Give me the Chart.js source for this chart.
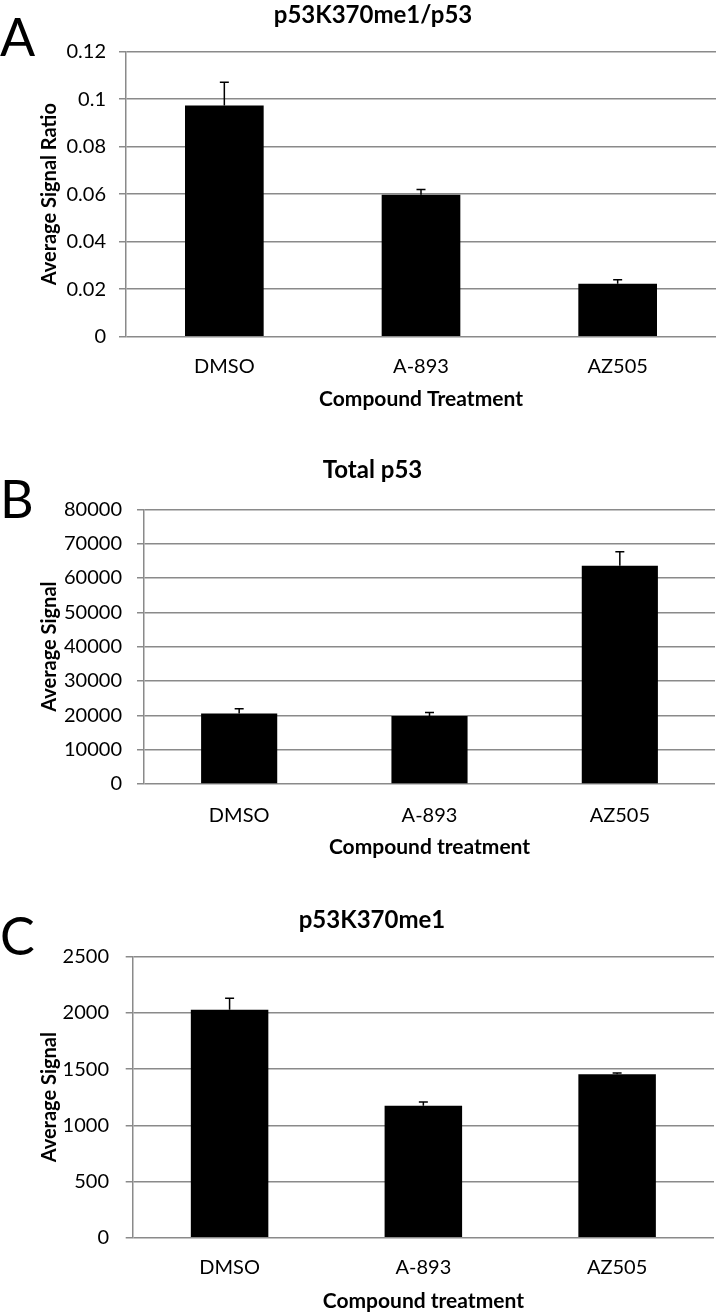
<!doctype html>
<html>

<head>
    <title>p53 signal</title>
    <script src="https://cdn.jsdelivr.net/npm/chart.js"></script>
    <style>
        body { margin: 0; background: #fff; width: 717px; height: 1312px; position: relative; overflow: hidden; }
        .panel { position: absolute; left: 30px; }
        .letra { position: absolute; left: 0px; font-family: Lato, sans-serif; font-size: 52px; line-height: 52px; color: #000; }
    </style>
</head>

<body>

    <div class="letra" style="top: 10px">A</div>
    <div class="letra" style="top: 472px">B</div>
    <div class="letra" style="top: 909px">C</div>

    <canvas id="graficoA" class="panel" style="top: 0px" width="687" height="420"></canvas>
    <canvas id="graficoB" class="panel" style="top: 450px" width="687" height="420"></canvas>
    <canvas id="graficoC" class="panel" style="top: 900px" width="687" height="412"></canvas>

    <script>
        // dados
        var categorias = ['DMSO', 'A-893', 'AZ505'];

        var razaoMedia = [0.0973, 0.0598, 0.0223];
        var razaoErro = [0.0098, 0.0022, 0.0017];

        var totalMedia = [20550, 19770, 63570];
        var totalErro = [1350, 1070, 4070];

        var me1Media = [2028, 1174, 1454];
        var me1Erro = [102, 33, 11];

        var fonte = 'Lato, sans-serif';
        var cinza = '#8a8a8a';

        // barras de erro (so para cima, como no excel)
        var barrasErro = {
            id: 'barrasErro',
            afterDatasetsDraw(chart) {
                var erros = chart.options.plugins.barrasErro.erros;
                var meta = chart.getDatasetMeta(0);
                var escala = chart.scales.y;
                var ctx = chart.ctx;
                ctx.save();
                ctx.strokeStyle = '#000';
                ctx.lineWidth = 1.5;
                meta.data.forEach((barra, i) => {
                    var valor = chart.data.datasets[0].data[i];
                    var yTopo = escala.getPixelForValue(valor + erros[i]);
                    var yBarra = escala.getPixelForValue(valor);
                    ctx.beginPath();
                    ctx.moveTo(barra.x, yBarra);
                    ctx.lineTo(barra.x, yTopo);
                    ctx.moveTo(barra.x - 4.5, yTopo);
                    ctx.lineTo(barra.x + 4.5, yTopo);
                    ctx.stroke();
                });
                ctx.restore();
            }
        };

        function criarGrafico(id, cfg) {
            return new Chart(document.getElementById(id).getContext('2d'), {
                type: 'bar',
                data: {
                    labels: categorias,
                    datasets: [{
                        data: cfg.valores,
                        backgroundColor: '#000',
                        borderWidth: 0,
                        barPercentage: 0.4,
                        categoryPercentage: 1
                    }]
                },
                plugins: [barrasErro],
                options: {
                    responsive: false,
                    animation: false,
                    devicePixelRatio: 1,
                    layout: { padding: { left: 0, right: cfg.direita, top: 0, bottom: 0 } },
                    plugins: {
                        legend: { display: false },
                        tooltip: { enabled: false },
                        barrasErro: { erros: cfg.erros },
                        title: {
                            display: true,
                            text: cfg.titulo,
                            color: '#000',
                            font: { family: fonte, size: 24, weight: 'bold', lineHeight: 1.2 },
                            padding: { top: cfg.tituloTopo, bottom: cfg.tituloBaixo }
                        }
                    },
                    scales: {
                        x: {
                            grid: { display: false, drawTicks: false },
                            border: { display: false },
                            afterFit: (s) => { s.height = cfg.alturaX; },
                            ticks: {
                                color: '#000',
                                padding: cfg.padX,
                                font: { family: fonte, size: 20 }
                            },
                            title: {
                                display: true,
                                text: cfg.tituloX,
                                color: '#000',
                                font: { family: fonte, size: 21, weight: 'bold', lineHeight: cfg.lhX },
                                padding: { top: 0, bottom: cfg.padTituloX }
                            }
                        },
                        y: {
                            min: 0,
                            max: cfg.max,
                            afterFit: (s) => { s.width = cfg.larguraY; },
                            afterBuildTicks: (s) => {
                                s.ticks = cfg.marcas.map(v => ({ value: v }));
                            },
                            grid: { color: cinza, lineWidth: 1.5, tickLength: 7, drawTicks: true },
                            border: { color: cinza, width: 1.5 },
                            ticks: {
                                color: '#000',
                                padding: cfg.padY,
                                font: { family: fonte, size: 20 },
                                callback: (v) => cfg.rotulo(v)
                            },
                            title: {
                                display: true,
                                text: cfg.tituloY,
                                color: '#000',
                                font: { family: fonte, size: 20, weight: 'bold', lineHeight: 1.2 },
                                padding: { top: 8, bottom: 0 }
                            }
                        }
                    }
                }
            });
        }

        var marcasA = [0, 0.02, 0.04, 0.06, 0.08, 0.1, 0.12];
        var marcasB = [0, 10000, 20000, 30000, 40000, 50000, 60000, 70000, 80000];
        var marcasC = [0, 500, 1000, 1500, 2000, 2500];

        criarGrafico('graficoA', {
            valores: razaoMedia, erros: razaoErro, marcas: marcasA, max: 0.12,
            rotulo: (v) => String(parseFloat(v.toFixed(2))),
            titulo: 'p53K370me1/p53', tituloX: 'Compound Treatment', tituloY: 'Average Signal Ratio',
            tituloTopo: 0.6, tituloBaixo: 22.3, direita: 1,
            larguraY: 96, padY: 13, alturaX: 83.3, padX: 18, padTituloX: 8.4, lhX: 1.2
        });

        criarGrafico('graficoB', {
            valores: totalMedia, erros: totalErro, marcas: marcasB, max: 80000,
            rotulo: (v) => String(v),
            titulo: 'Total p53', tituloX: 'Compound treatment', tituloY: 'Average Signal',
            tituloTopo: 5.6, tituloBaixo: 24.9, direita: 2,
            larguraY: 114, padY: 15, alturaX: 86, padX: 20, padTituloX: 9.7, lhX: 1.2
        });

        criarGrafico('graficoC', {
            valores: me1Media, erros: me1Erro, marcas: marcasC, max: 2500,
            rotulo: (v) => String(v),
            titulo: 'p53K370me1', tituloX: 'Compound treatment', tituloY: 'Average Signal',
            tituloTopo: 5.6, tituloBaixo: 22.3, direita: 3,
            larguraY: 102.7, padY: 16.7, alturaX: 74.3, padX: 18.3, padTituloX: 0, lhX: 1.0
        });

    </script>
</body>

</html>
